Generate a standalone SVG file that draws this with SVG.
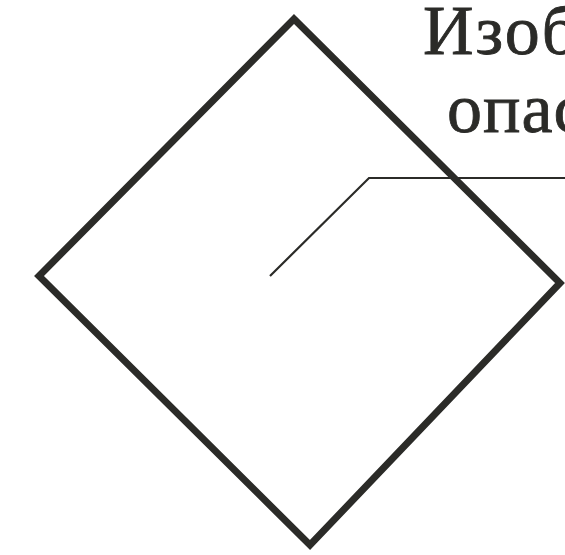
<svg xmlns="http://www.w3.org/2000/svg" width="565" height="555" viewBox="0 0 565 555">
<style>
.shape{fill:none;stroke:#2b2b28;stroke-width:7;stroke-linejoin:miter}
.conn{fill:none;stroke:#2b2b28;stroke-width:2.2}
.lbl{font-family:"Liberation Serif","Times New Roman",serif;font-size:70px;fill:#2b2b28;stroke:#2b2b28;stroke-width:0.8}
</style>
<rect width="565" height="555" fill="#fff"/>
<g id="diamond">
<polygon class="shape" points="294,19 39,276 310,545 560,283"/>
</g>
<g id="connectors">
<polyline class="conn" points="270,276 369,178 565,178"/>
</g>
<g id="label">
<text class="lbl" x="423" y="54" letter-spacing="2">Изоб</text>
<text class="lbl" x="447" y="132" letter-spacing="1">опас</text>
</g>
</svg>
